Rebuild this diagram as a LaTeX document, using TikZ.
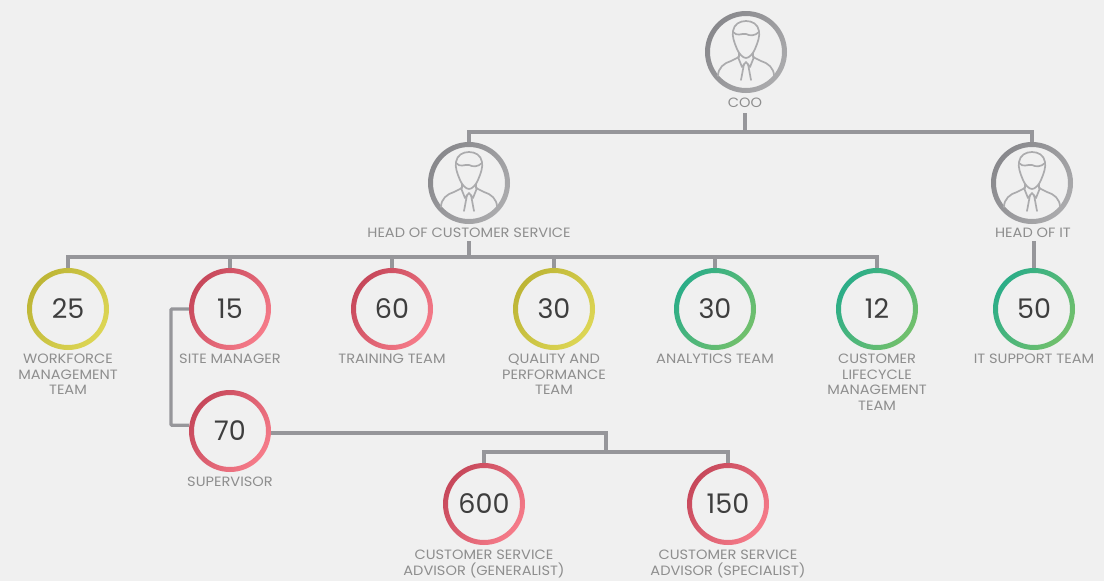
\documentclass[tikz,border=0pt]{standalone}
\usepackage{fontspec}
\setmainfont{Poppins}
\newfontfamily\captionfont[FakeStretch=1.08]{Poppins}
\usepackage{tikz}
\usetikzlibrary{backgrounds}

\definecolor{paper}{HTML}{F0F0F0}
\definecolor{wire}{HTML}{96969A}
\definecolor{caption}{HTML}{8E8E8E}
\definecolor{figure}{HTML}{3E3E3E}
\definecolor{grayA}{HTML}{88888C}
\definecolor{grayB}{HTML}{ABABAD}
\definecolor{oliveA}{HTML}{BDB535}
\definecolor{oliveB}{HTML}{DDD655}
\definecolor{redA}{HTML}{C6475A}
\definecolor{redB}{HTML}{F67C8A}
\definecolor{greenA}{HTML}{2BAD88}
\definecolor{greenB}{HTML}{72C06C}

\tikzset{
  wireline/.style={draw=wire, line width=3.4pt},
  iconline/.style={draw=grayB, line width=1.7pt, line join=round, line cap=round},
  ringnode/.style={circle, minimum size=82pt, inner sep=0pt, text=figure, font=\fontsize{27}{27}\selectfont},
  headnode/.style={circle, minimum size=82pt, inner sep=0pt},
  labelnode/.style={align=center, text=caption, inner sep=0pt, anchor=north, font=\captionfont\fontsize{13.5}{15.6}\selectfont}
}

\newcommand{\ringshade}[3]{
  \shade [even odd rule, left color=#2, right color=#3, shading angle=55] (#1) circle (41) (#1) circle (36);
}
\newcommand{\personicon}[1]{
  \begin{scope}[shift={(#1)}]
    \draw [iconline] (-9,-3) .. controls (-12,-10) and (-14,-16) .. (-13,-21) .. controls (-12,-28) and (-6,-31) .. (0,-31) .. controls (6,-31) and (12,-28) .. (13,-21) .. controls (14,-16) and (12,-10) .. (9,-3) .. controls (7,2) and (3,6) .. (0,6) .. controls (-3,6) and (-7,2) .. (-9,-3);
    \draw [iconline] (-13,-20) .. controls (-9,-15) and (-4,-19) .. (0,-18) .. controls (4,-16) and (9,-16) .. (13,-20);
    \draw [iconline] (-28,24) .. controls (-28,16) and (-22,11) .. (-15,9) -- (-7,5) -- (-7,1);
    \draw [iconline] (28,24) .. controls (28,16) and (22,11) .. (15,9) -- (7,5) -- (7,1);
    \draw [iconline] (-8,5) -- (-4,15) -- (0,10) -- (4,15) -- (8,5);
    \draw [iconline] (-2,12) -- (-5,28);
    \draw [iconline] (2,12) -- (5,28);
  \end{scope}
}

\begin{document}
\begin{tikzpicture}[x=1pt, y=-1pt]
  \useasboundingbox [fill=paper] (0,0) rectangle (1104,581);

  \node [headnode] (coo) at (746,52) {};
  \node [labelnode] (cooLabel) at (745,98) {COO};
  \node [headnode] (headCs) at (469,183) {};
  \node [labelnode] (headCsLabel) at (469,228) {HEAD OF CUSTOMER SERVICE};
  \node [headnode] (headIt) at (1032,183) {};
  \node [labelnode] (headItLabel) at (1033,228) {HEAD OF IT};

  \node [ringnode] (workforce) at (68,309) {25};
  \node [ringnode] (siteManager) at (230,309) {15};
  \node [ringnode] (training) at (392,309) {60};
  \node [ringnode] (quality) at (554,309) {30};
  \node [ringnode] (analytics) at (715,309) {30};
  \node [ringnode] (lifecycle) at (877,309) {12};
  \node [ringnode] (itSupport) at (1034,309) {50};
  \node [ringnode] (supervisor) at (230,431) {70};
  \node [ringnode] (generalist) at (484,504) {600};
  \node [ringnode] (specialist) at (728,504) {150};

  \node [labelnode] (workforceLabel) at (68,354) {WORKFORCE\\MANAGEMENT\\TEAM};
  \node [labelnode] (siteManagerLabel) at (230,354) {SITE MANAGER};
  \node [labelnode] (trainingLabel) at (392,354) {TRAINING TEAM};
  \node [labelnode] (qualityLabel) at (554,354) {QUALITY AND\\PERFORMANCE\\TEAM};
  \node [labelnode] (analyticsLabel) at (715,354) {ANALYTICS TEAM};
  \node [labelnode] (lifecycleLabel) at (877,354) {CUSTOMER\\LIFECYCLE\\MANAGEMENT\\TEAM};
  \node [labelnode] (itSupportLabel) at (1034,354) {IT SUPPORT TEAM};
  \node [labelnode] (supervisorLabel) at (230,477) {SUPERVISOR};
  \node [labelnode] (generalistLabel) at (484,550) {CUSTOMER SERVICE\\ADVISOR (GENERALIST)};
  \node [labelnode] (specialistLabel) at (728,550) {CUSTOMER SERVICE\\ADVISOR (SPECIALIST)};

  \coordinate (cooBus) at (745,132);
  \coordinate (csBus) at (469,257);
  \coordinate (siteBend) at (171,367);
  \coordinate (advisorBus) at (606,452);

  \draw [wireline, shorten <=5pt] (cooLabel.south) -- (cooBus);
  \draw [wireline] (headCs.north) |- (cooBus) -| (headIt.north);
  \draw [wireline, shorten <=3pt] (headCsLabel.south) -- (csBus);
  \draw [wireline] (workforce.north) |- (csBus) -| (lifecycle.north);
  \draw [wireline] (siteManager.north) -- (siteManager.north |- csBus);
  \draw [wireline] (training.north) -- (training.north |- csBus);
  \draw [wireline] (quality.north) -- (quality.north |- csBus);
  \draw [wireline] (analytics.north) -- (analytics.north |- csBus);
  \draw [wireline, shorten <=3pt] (headItLabel.south -| itSupport.north) -- (itSupport.north);
  \draw [wireline, rounded corners=1pt] (siteManager.west) -| (siteBend) |- (supervisor.172);
  \draw [wireline] (supervisor.-3) -| (advisorBus);
  \draw [wireline] (generalist.north) |- (advisorBus) -| (specialist.north);

  \ringshade{coo}{grayA}{grayB}
  \ringshade{headCs}{grayA}{grayB}
  \ringshade{headIt}{grayA}{grayB}
  \personicon{coo}
  \personicon{headCs}
  \personicon{headIt}

  \ringshade{workforce}{oliveA}{oliveB}
  \ringshade{quality}{oliveA}{oliveB}
  \ringshade{siteManager}{redA}{redB}
  \ringshade{training}{redA}{redB}
  \ringshade{supervisor}{redA}{redB}
  \ringshade{generalist}{redA}{redB}
  \ringshade{specialist}{redA}{redB}
  \ringshade{analytics}{greenA}{greenB}
  \ringshade{lifecycle}{greenA}{greenB}
  \ringshade{itSupport}{greenA}{greenB}
\end{tikzpicture}
\end{document}
